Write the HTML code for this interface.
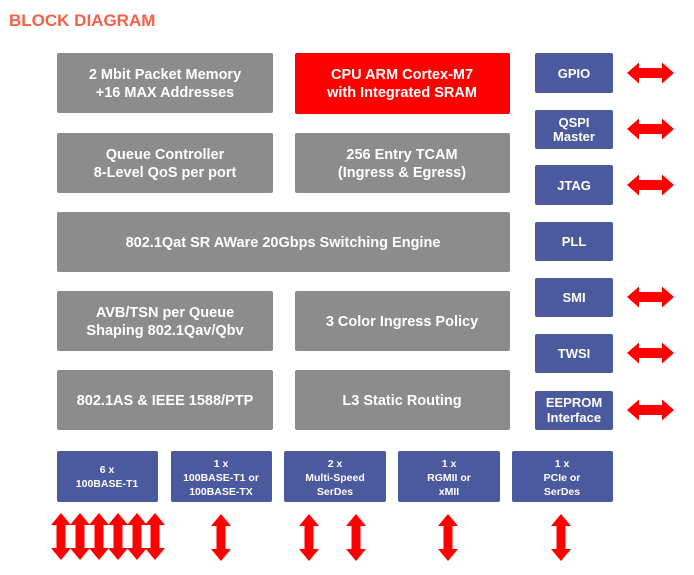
<!DOCTYPE html>
<html><head><style>
html,body{margin:0;padding:0;background:#fff;}
svg{display:block;}
text{font-family:"Liberation Sans",sans-serif;font-weight:bold;fill:#fff;text-anchor:middle;}
</style></head><body>
<svg width="694" height="575" viewBox="0 0 694 575" xmlns="http://www.w3.org/2000/svg">
<defs>
<path id="h" d="M0,0 L12,-10.5 L12,-5 L35,-5 L35,-10.5 L47,0 L35,10.5 L35,5 L12,5 L12,10.5 Z" fill="#f00"/>
<path id="v" d="M0,0 L10,12 L4.5,12 L4.5,35 L10,35 L0,47 L-10,35 L-4.5,35 L-4.5,12 L-10,12 Z" fill="#f00"/>
</defs>
<text x="9" y="26" style="fill:#f4604a;font-size:17px;text-anchor:start">BLOCK DIAGRAM</text>

<g fill="#8c8c8c">
<rect x="57" y="53" width="216" height="60" rx="2"/>
<rect x="57" y="133" width="216" height="60" rx="2"/>
<rect x="295" y="133" width="215" height="60" rx="2"/>
<rect x="57" y="212" width="453" height="60" rx="2"/>
<rect x="57" y="291" width="216" height="60" rx="2"/>
<rect x="295" y="291" width="215" height="60" rx="2"/>
<rect x="57" y="370" width="216" height="60" rx="2"/>
<rect x="295" y="370" width="215" height="60" rx="2"/>
</g>
<rect x="295" y="53" width="215" height="61" rx="2" fill="#f00"/>

<g style="font-size:14.5px">
<text x="165" y="79">2 Mbit Packet Memory</text>
<text x="165" y="97">+16 MAX Addresses</text>
<text x="402" y="79">CPU ARM Cortex-M7</text>
<text x="402" y="97">with Integrated SRAM</text>
<text x="165" y="159">Queue Controller</text>
<text x="165" y="177">8-Level QoS per port</text>
<text x="402" y="159">256 Entry TCAM</text>
<text x="402" y="177">(Ingress &amp; Egress)</text>
<text x="283" y="247">802.1Qat SR AWare 20Gbps Switching Engine</text>
<text x="165" y="317">AVB/TSN per Queue</text>
<text x="165" y="335">Shaping 802.1Qav/Qbv</text>
<text x="402" y="326">3 Color Ingress Policy</text>
<text x="165" y="405">802.1AS &amp; IEEE 1588/PTP</text>
<text x="402" y="405">L3 Static Routing</text>
</g>

<g fill="#4b5a9e">
<rect x="535" y="53" width="78" height="40" rx="2"/>
<rect x="535" y="110" width="78" height="39" rx="2"/>
<rect x="535" y="165" width="78" height="40" rx="2"/>
<rect x="535" y="222" width="78" height="39" rx="2"/>
<rect x="535" y="278" width="78" height="39" rx="2"/>
<rect x="535" y="334" width="78" height="39" rx="2"/>
<rect x="535" y="391" width="78" height="39" rx="2"/>
<rect x="57" y="451" width="101" height="51" rx="2"/>
<rect x="171" y="451" width="101" height="51" rx="2"/>
<rect x="284" y="451" width="102" height="51" rx="2"/>
<rect x="398" y="451" width="102" height="51" rx="2"/>
<rect x="512" y="451" width="101" height="51" rx="2"/>
</g>
<g style="font-size:13px">
<text x="574" y="78">GPIO</text>
<text x="574" y="127">QSPI</text>
<text x="574" y="141">Master</text>
<text x="574" y="190">JTAG</text>
<text x="574" y="246">PLL</text>
<text x="574" y="302">SMI</text>
<text x="574" y="358">TWSI</text>
<text x="574" y="407">EEPROM</text>
<text x="574" y="422">Interface</text>
</g>
<g style="font-size:10.5px">
<text x="107" y="473">6 x</text>
<text x="107" y="487">100BASE-T1</text>
<text x="221" y="467">1 x</text>
<text x="221" y="481">100BASE-T1 or</text>
<text x="221" y="495">100BASE-TX</text>
<text x="335" y="467">2 x</text>
<text x="335" y="481">Multi-Speed</text>
<text x="335" y="495">SerDes</text>
<text x="449" y="467">1 x</text>
<text x="449" y="481">RGMII or</text>
<text x="449" y="495">xMII</text>
<text x="562" y="467">1 x</text>
<text x="562" y="481">PCIe or</text>
<text x="562" y="495">SerDes</text>
</g>

<use href="#h" x="627" y="73"/>
<use href="#h" x="627" y="129"/>
<use href="#h" x="627" y="185"/>
<use href="#h" x="627" y="297"/>
<use href="#h" x="627" y="353"/>
<use href="#h" x="627" y="410"/>

<use href="#v" x="61" y="513"/>
<use href="#v" x="80" y="513"/>
<use href="#v" x="99" y="513"/>
<use href="#v" x="118" y="513"/>
<use href="#v" x="137" y="513"/>
<use href="#v" x="155" y="513"/>
<use href="#v" x="221" y="514"/>
<use href="#v" x="309" y="514"/>
<use href="#v" x="356" y="514"/>
<use href="#v" x="448" y="514"/>
<use href="#v" x="561" y="514"/>
</svg>
</body></html>
